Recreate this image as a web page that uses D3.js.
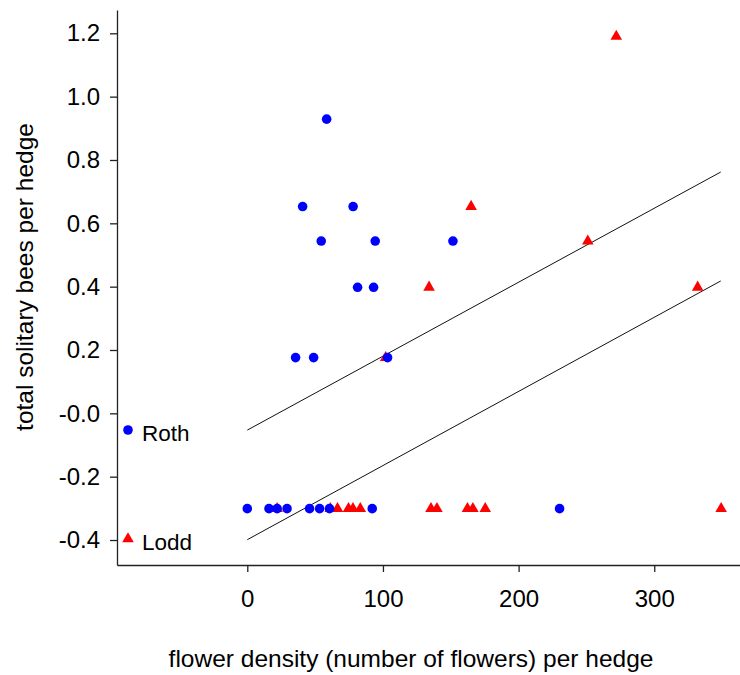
<!DOCTYPE html>
<html>
<head>
<meta charset="utf-8">
<script src="https://cdn.jsdelivr.net/npm/d3@7"></script>
<style>
  html, body { margin: 0; padding: 0; background: #fff; }
  svg { display: block; }
  text { font-family: "Liberation Sans", Arial, sans-serif; fill: #000; }
</style>
</head>
<body>
<svg id="chart" width="740" height="675"></svg>
<script>
// ---- data ----
const rothX = [58.5, 40.8, 78, 54.5, 94.3, 151.6, 81.3, 93.1, 35.6, 48.9, 103.4,
               0, 16, 22, 29.3, 45.9, 53.3, 60.6, 92.1, 230.2];
const rothY = [0.929, 0.653, 0.653, 0.544, 0.544, 0.544, 0.398, 0.398, 0.176, 0.176, 0.176,
               -0.301, -0.301, -0.301, -0.301, -0.301, -0.301, -0.301, -0.301, -0.301];
const loddX = [272, 165, 251, 134, 332, 102,
               22, 61.2, 66.5, 74.6, 77.9, 83.3, 135.4, 139.8, 162.3, 166.3, 175.4, 349.3];
const loddY = [1.190, 0.653, 0.544, 0.398, 0.398, 0.176,
               -0.301, -0.301, -0.301, -0.301, -0.301, -0.301, -0.301, -0.301, -0.301, -0.301, -0.301, -0.301];
const fitX = [0, 349];
const rothFitY = [-0.053, 0.762];
const loddFitY = [-0.399, 0.418];
const xTicks = [0, 100, 200, 300];
const yTicks = [-0.4, -0.2, 0, 0.2, 0.4, 0.6, 0.8, 1.0, 1.2];
const yTickLabels = ["-0.4", "-0.2", "-0.0", "0.2", "0.4", "0.6", "0.8", "1.0", "1.2"];
const seriesNames = ["Roth", "Lodd"];
const xTitle = "flower density (number of flowers) per hedge";
const yTitle = "total solitary bees per hedge";

// ---- layout ----
const svg = d3.select("#chart");
const x = d3.scaleLinear().domain([-96.04, 363.2]).range([117, 740]);
const y = d3.scaleLinear().domain([-0.4789, 1.2736]).range([565, 10]);
const blue = "#0000ff", red = "#ff0000";
const tickFs = 24, titleFs = 24.5, legendFs = 22.5;

// axes
const xAxis = d3.axisBottom(x).tickValues(xTicks).tickSize(7).tickSizeOuter(0).tickPadding(18)
  .tickFormat(d3.format("d"));
const gx = svg.append("g").attr("transform", "translate(0,565)").call(xAxis);
const yAxis = d3.axisLeft(y).tickValues(yTicks).tickSize(7).tickSizeOuter(0).tickPadding(10)
  .tickFormat((d, i) => yTickLabels[i]);
const gy = svg.append("g").attr("transform", "translate(117,0)").call(yAxis);
[gx, gy].forEach(g => {
  g.selectAll("path.domain").attr("stroke", "#222").attr("stroke-width", 1.3);
  g.selectAll(".tick line").attr("stroke", "#222").attr("stroke-width", 1.3);
  g.selectAll(".tick text").attr("font-size", tickFs).attr("font-family", "Liberation Sans, Arial, sans-serif").attr("fill", "#000");
});

// fit lines
const line = d3.line().x(d => x(d[0])).y(d => y(d[1]));
[rothFitY, loddFitY].forEach(fy => {
  svg.append("path")
    .attr("d", line(fitX.map((v, i) => [v, fy[i]])))
    .attr("fill", "none").attr("stroke", "#111").attr("stroke-width", 1);
});

// Lodd triangles (drawn first)
const tri = d3.symbol().type(d3.symbolTriangle).size(58);
svg.append("g").selectAll("path").data(loddX.map((v, i) => [v, loddY[i]])).join("path")
  .attr("d", tri)
  .attr("transform", d => `translate(${x(d[0])},${y(d[1])})`)
  .attr("fill", red);

// Roth circles
svg.append("g").selectAll("circle").data(rothX.map((v, i) => [v, rothY[i]])).join("circle")
  .attr("cx", d => x(d[0])).attr("cy", d => y(d[1])).attr("r", 4.8)
  .attr("fill", blue);

// legend
svg.append("circle").attr("cx", 128).attr("cy", 430).attr("r", 4.8).attr("fill", blue);
svg.append("text").attr("x", 142).attr("y", 441).attr("font-size", legendFs).text(seriesNames[0]);
svg.append("path").attr("d", tri).attr("transform", "translate(128,539)").attr("fill", red);
svg.append("text").attr("x", 142).attr("y", 550).attr("font-size", legendFs).text(seriesNames[1]);

// axis titles
svg.append("text").attr("x", 411).attr("y", 667).attr("text-anchor", "middle")
  .attr("font-size", titleFs).text(xTitle);
svg.append("text").attr("transform", "translate(33,277) rotate(-90)").attr("text-anchor", "middle")
  .attr("font-size", titleFs).text(yTitle);
</script>
</body>
</html>
